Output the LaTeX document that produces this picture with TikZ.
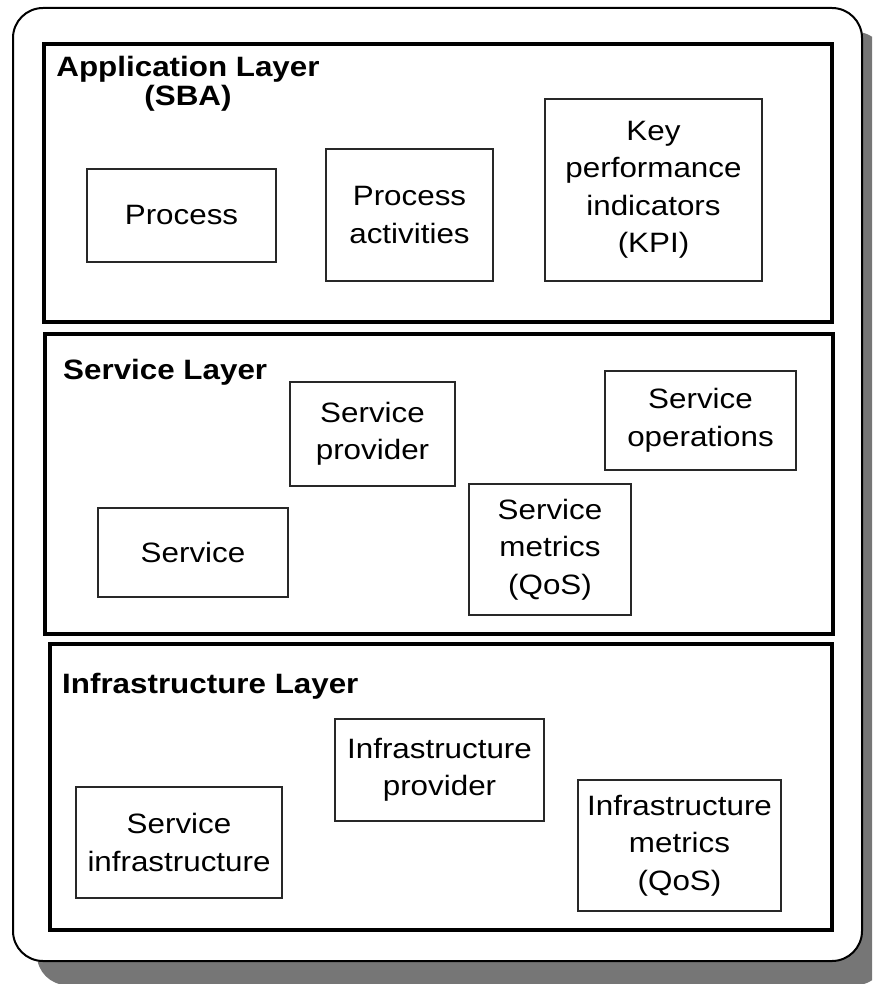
\documentclass[tikz,border=0pt]{standalone}
\usepackage{fontspec}
\setmainfont[FakeStretch=1.12]{Liberation Sans}
\definecolor{shadowgray}{RGB}{118,118,118}
\definecolor{boxline}{RGB}{40,40,40}
\begin{document}
\begin{tikzpicture}[x=1pt,y=-1pt,
  frame/.style={draw=black, line width=2pt, fill=white, rounded corners=30pt},
  layerbox/.style={draw=black, line width=4pt, inner sep=0pt},
  itembox/.style={draw=boxline, line width=1.3pt, inner sep=0pt, align=center,
    font=\fontsize{28}{37.5}\selectfont},
  layertitle/.style={inner sep=0pt, align=center,
    font=\fontsize{28}{29}\selectfont\bfseries}]
  % page size and clipping
  \useasboundingbox (0,0) rectangle (872,984);
  \clip (0,0) rectangle (872,984);

  % outer frame with its drop shadow
  \fill[shadowgray, rounded corners=30pt] (37,32) rectangle (886,985);
  \draw[frame] (13,8) rectangle (862,961);

  % the three layers
  \node[layerbox, minimum width=788pt, minimum height=278pt] (applayer) at (438,183) {};
  \node[layerbox, minimum width=788pt, minimum height=300pt] (servlayer) at (439,484) {};
  \node[layerbox, minimum width=782pt, minimum height=286pt] (infralayer) at (441,787) {};

  % layer titles
  \node[layertitle, anchor=base] (apptitle) at (188,106) {Application Layer\\(SBA)};
  \node[layertitle, anchor=base west] (servtitle) at (63,379) {Service Layer};
  \node[layertitle, anchor=base west] (infratitle) at (62,693) {Infrastructure Layer};

  % application layer items
  \node[itembox, minimum width=189pt, minimum height=93pt] (proc) at (181.5,215.5) {Process};
  \node[itembox, minimum width=167pt, minimum height=132pt] (procact) at (409.5,215) {Process\\activities};
  \node[itembox, minimum width=217pt, minimum height=182pt] (kpi) at (653.5,190) {Key\\performance\\indicators\\(KPI)};

  % service layer items
  \node[itembox, minimum width=165pt, minimum height=104pt] (sprov) at (372.5,434) {Service\\provider};
  \node[itembox, minimum width=191pt, minimum height=99pt] (sops) at (700.5,420.5) {Service\\operations};
  \node[itembox, minimum width=190pt, minimum height=89pt] (serv) at (193,552.5) {Service};
  \node[itembox, minimum width=162pt, minimum height=131pt] (smet) at (550,549.5) {Service\\metrics\\(QoS)};

  % infrastructure layer items
  \node[itembox, minimum width=209pt, minimum height=102pt] (iprov) at (439.5,770) {Infrastructure\\provider};
  \node[itembox, minimum width=206pt, minimum height=111pt] (sinf) at (179,842.5) {Service\\infrastructure};
  \node[itembox, minimum width=203pt, minimum height=131pt] (imet) at (679.5,845.5) {Infrastructure\\metrics\\(QoS)};
\end{tikzpicture}
\end{document}
